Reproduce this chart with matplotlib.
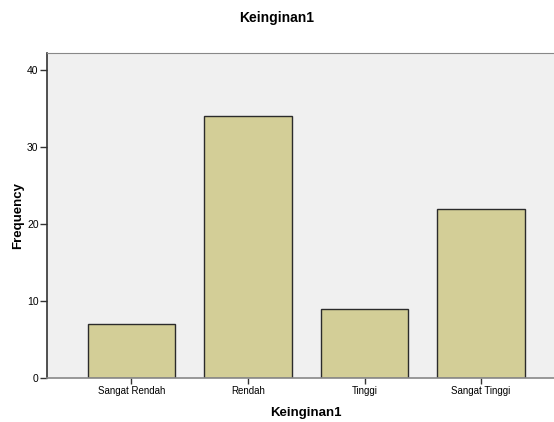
import matplotlib
matplotlib.use("Agg")
import matplotlib.pyplot as plt
import numpy as np

# data
categories = ["Sangat Rendah", "Rendah", "Tinggi", "Sangat Tinggi"]
frequency = [7, 34, 9, 22]
y_ticks = [0, 10, 20, 30, 40]

plt.rcParams['font.family'] = ['Liberation Sans', 'DejaVu Sans']

fig = plt.figure(figsize=(5.54, 4.22), dpi=100)
ax = fig.add_axes([0.0848, 0.1043, 0.936, 0.769])
ax.set_facecolor('#f0f0f0')

x = np.arange(len(categories))
ax.bar(x, frequency, width=0.75, color='#d3ce97', edgecolor='#2b2b2b', linewidth=1.0, zorder=2)

ax.set_xlim(-0.725, len(categories) - 1 + 0.725)
ax.set_ylim(0, 42.17)
ax.set_yticks(y_ticks)
ax.set_xticks(x)
ax.set_xticklabels(categories, fontsize=7)
ax.tick_params(axis='y', labelsize=7.5, length=5, width=1, color='#333333', pad=1)
ax.tick_params(axis='x', length=4, width=1, color='#333333', pad=2)

ax.spines['left'].set_color('#333333')
ax.spines['left'].set_linewidth(1.2)
ax.spines['top'].set_color('#888888')
ax.spines['bottom'].set_color('#888888')
ax.spines['bottom'].set_linewidth(1.2)
ax.spines['right'].set_visible(False)

ax.set_ylabel('Frequency', fontsize=9.5, fontweight='bold', labelpad=2)
ax.set_xlabel('Keinginan1', fontsize=9.5, fontweight='bold', labelpad=8)
fig.text(0.5, 0.958, 'Keinginan1', ha='center', va='center', fontsize=10, fontweight='bold')

fig.savefig('out.png', dpi=100)
